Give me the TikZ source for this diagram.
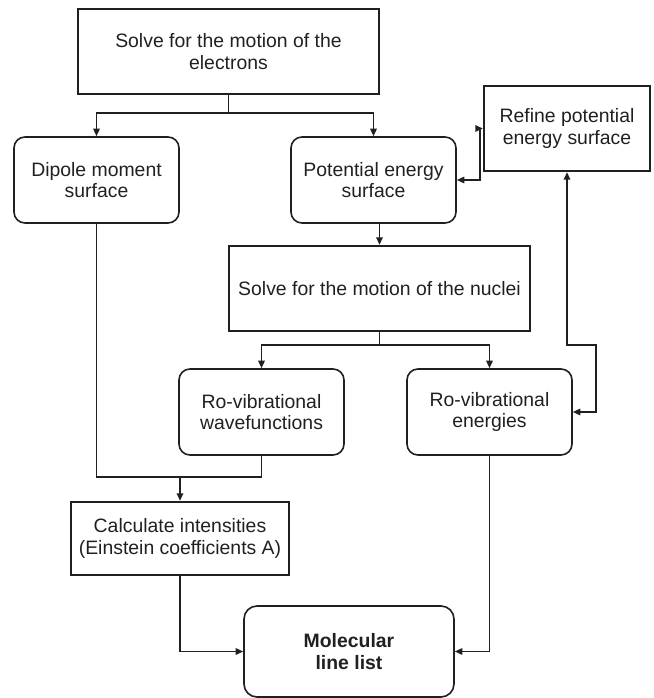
\documentclass[tikz,border=0pt]{standalone}
\usepackage{fontspec}
\setmainfont{Liberation Sans}
\usetikzlibrary{arrows.meta}
\definecolor{ink}{RGB}{35,31,32}
\begin{document}
\begin{tikzpicture}[x=1pt,y=1pt,
  every node/.style={font=\fontsize{19.4}{21.5}\selectfont, text=ink, align=center, inner sep=0pt},
  sharpbox/.style={draw=ink, line width=2.4pt, minimum width=#1},
  roundbox/.style={draw=ink, line width=1.6pt, rounded corners=11pt, minimum width=165pt, minimum height=86pt},
  conn/.style={draw=ink, line width=1.5pt},
  arr/.style={conn, -{Triangle[length=7.5pt,width=6.5pt]}},
  dblarr/.style={conn, {Triangle[length=7.5pt,width=6.5pt]}-{Triangle[length=7.5pt,width=6.5pt]}}
]
\useasboundingbox (0,0) rectangle (653,-698);

\node[sharpbox=301pt, minimum height=85pt] (top) at (228.5,-51.5) {Solve for the motion of the\\electrons};
\node[roundbox] (dip) at (96.5,-180) {Dipole moment\\surface};
\node[roundbox] (pes) at (373.5,-180) {Potential energy\\surface};
\node[sharpbox=166pt, minimum height=85pt] (ref) at (567,-128.5) {Refine potential\\energy surface};
\node[sharpbox=301pt, minimum height=85pt] (nuc) at (379.5,-288.5) {Solve for the motion of the nuclei};
\node[roundbox] (wav) at (261.5,-412) {Ro-vibrational\\wavefunctions};
\node[roundbox] (ene) at (489.5,-412) {Ro-vibrational\\energies};
\node[sharpbox=218pt, minimum height=73pt] (calc) at (180,-538.5) {Calculate intensities\\(Einstein coefficients A)};
\node[draw=ink, line width=1.6pt, rounded corners=13pt, minimum width=210pt, minimum height=91pt, font=\fontsize{19.4}{21.5}\selectfont\bfseries] (mol) at (349,-651.5) {Molecular\\line list};

% electrons -> dipole, PES
\coordinate (j1) at (228.5,-113);
\draw[conn] (top.south) -- (j1);
\draw[arr] (j1) -| (dip.north);
\draw[arr] (j1) -| (pes.north);

% PES -> nuclei
\draw[arr] (pes.south -| nuc.north) -- (nuc.north);

% PES <-> refine
\coordinate (r0) at (480,-180);
\draw[dblarr] (pes.east) -- (r0) |- (ref.west);

% refine <-> energies
\coordinate (r1) at (596,-345);
\draw[dblarr] (ref.south) |- (r1) |- (ene.east);

% nuclei -> wavefunctions, energies
\coordinate (j2) at (379.5,-345);
\draw[conn] (nuc.south) -- (j2);
\draw[arr] (j2) -| (wav.north);
\draw[arr] (j2) -| (ene.north);

% dipole + wavefunctions -> intensities
\coordinate (j3) at (180,-477);
\draw[conn] (dip.south) |- (j3) -| (wav.south);
\draw[arr] (j3) -- (calc.north);

% -> line list
\draw[arr] (calc.south) |- (mol.west);
\draw[arr] (ene.south) |- (mol.east);
\end{tikzpicture}
\end{document}
